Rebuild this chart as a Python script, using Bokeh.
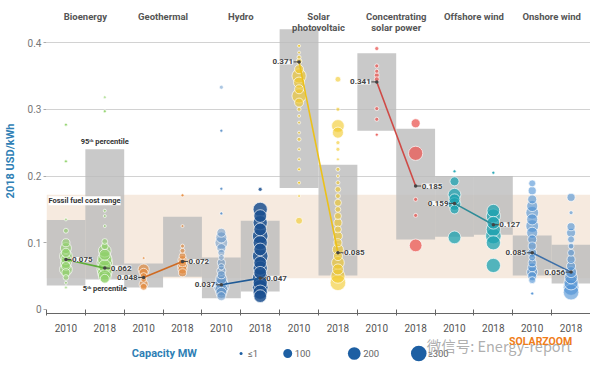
import math
from bokeh.plotting import figure
from bokeh.models import Range1d, FixedTicker, Label, ColumnDataSource
from bokeh.layouts import column
from bokeh.embed import file_html
from bokeh.resources import INLINE
from bokeh.core.properties import value

# ---------------- data ----------------
title_line1 = ["Bioenergy", "Geothermal", "Hydro", "Solar", "Concentrating", "Offshore wind", "Onshore wind"]
title_line2 = ["", "", "", "photovoltaic", "solar power", "", ""]
years = ["2010", "2018"]

avg_2010 = [0.075, 0.048, 0.037, 0.371, 0.341, 0.159, 0.085]
avg_2018 = [0.062, 0.072, 0.047, 0.085, 0.185, 0.127, 0.056]
label_side = ["right", "right", "left", "right", "left", "right", "left",
              "right", "left", "right", "left", "right", "left", "left"]

p5_2010 = [0.036, 0.033, 0.017, 0.182, 0.268, 0.109, 0.051]
p95_2010 = [0.134, 0.069, 0.078, 0.420, 0.384, 0.200, 0.111]
p5_2018 = [0.045, 0.049, 0.027, 0.051, 0.105, 0.112, 0.039]
p95_2018 = [0.240, 0.139, 0.133, 0.217, 0.271, 0.200, 0.097]

fossil_low = 0.047
fossil_high = 0.172

# (LCOE USD/kWh, capacity MW)
bio_2010 = [(0.277, 1), (0.222, 1), (0.135, 5), (0.118, 30), (0.100, 80), (0.092, 150), (0.085, 100),
            (0.080, 200), (0.075, 120), (0.070, 150), (0.065, 100), (0.060, 200), (0.055, 80),
            (0.048, 40), (0.040, 10), (0.033, 5)]
bio_2018 = [(0.318, 10), (0.297, 1), (0.148, 5), (0.140, 5), (0.125, 5), (0.102, 40), (0.095, 60),
            (0.088, 200), (0.082, 150), (0.076, 250), (0.070, 300), (0.065, 200), (0.060, 300),
            (0.055, 250), (0.050, 200), (0.046, 100)]
geo_2010 = [(0.077, 5), (0.060, 150), (0.055, 100), (0.050, 60), (0.045, 40), (0.038, 100), (0.034, 60)]
geo_2018 = [(0.171, 1), (0.125, 5), (0.095, 20), (0.088, 30), (0.080, 60), (0.074, 100), (0.070, 80),
            (0.065, 120), (0.060, 100), (0.055, 80)]
hyd_2010 = [(0.333, 20), (0.268, 1), (0.181, 1), (0.144, 1), (0.115, 100), (0.108, 150), (0.100, 200),
            (0.092, 100), (0.085, 60), (0.078, 40), (0.070, 80), (0.064, 50), (0.058, 100), (0.052, 80),
            (0.046, 150), (0.040, 200), (0.035, 300), (0.030, 200), (0.025, 150), (0.020, 100)]
hyd_2018 = [(0.180, 20), (0.150, 250), (0.140, 200), (0.130, 250), (0.120, 200), (0.110, 300),
            (0.100, 250), (0.090, 200), (0.080, 300), (0.070, 200), (0.062, 250), (0.055, 200),
            (0.047, 300), (0.040, 250), (0.033, 300), (0.026, 250), (0.020, 200)]
pv_2010 = [(0.395, 1), (0.385, 5), (0.378, 20), (0.372, 40), (0.360, 100), (0.350, 250), (0.340, 150),
           (0.330, 100), (0.320, 250), (0.310, 100), (0.300, 20), (0.290, 5), (0.280, 5), (0.265, 5),
           (0.255, 20), (0.240, 5), (0.225, 5), (0.210, 1), (0.190, 1), (0.170, 5), (0.133, 60)]
pv_2018 = [(0.345, 40), (0.300, 20), (0.275, 200), (0.265, 150), (0.250, 20), (0.240, 20), (0.225, 10),
           (0.210, 20), (0.200, 10), (0.190, 20), (0.180, 40), (0.170, 30), (0.160, 60), (0.150, 40),
           (0.140, 60), (0.130, 80), (0.120, 60), (0.110, 100), (0.100, 80), (0.090, 150), (0.080, 100),
           (0.070, 200), (0.060, 150), (0.050, 250), (0.040, 300)]
csp_2010 = [(0.391, 20), (0.365, 20), (0.357, 20), (0.351, 30), (0.345, 30), (0.301, 20), (0.285, 20),
            (0.262, 1)]
csp_2018 = [(0.279, 100), (0.234, 250), (0.165, 20), (0.141, 20), (0.096, 200)]
off_2010 = [(0.207, 1), (0.192, 100), (0.172, 200), (0.165, 150), (0.158, 200), (0.150, 100), (0.108, 200)]
off_2018 = [(0.205, 1), (0.148, 200), (0.140, 250), (0.130, 200), (0.120, 250), (0.110, 300),
            (0.100, 250), (0.066, 250)]
on_2010 = [(0.189, 60), (0.178, 80), (0.165, 100), (0.155, 150), (0.145, 200), (0.135, 150), (0.125, 200),
           (0.115, 150), (0.105, 100), (0.095, 80), (0.085, 100), (0.078, 60), (0.070, 80), (0.063, 100),
           (0.056, 150), (0.050, 100), (0.044, 60), (0.024, 1)]
on_2018 = [(0.168, 80), (0.145, 20), (0.124, 80), (0.115, 100), (0.105, 60), (0.095, 40), (0.085, 60),
           (0.075, 80), (0.065, 100), (0.056, 150), (0.048, 200), (0.040, 250), (0.033, 300), (0.026, 300)]

bubble_columns = [bio_2010, bio_2018, geo_2010, geo_2018, hyd_2010, hyd_2018, pv_2010, pv_2018,
                  csp_2010, csp_2018, off_2010, off_2018, on_2010, on_2018]

legend_caps = ["≤1", "100", "200", "≥300"]
legend_mw = [1, 100, 200, 300]

# ---------------- styles ----------------
FONT = "Roboto"
col_colors = ["#8ed168", "#8ed168", "#e5893a", "#e5893a", "#5a8fc8", "#1a4f8f", "#f2c824", "#f2c824",
              "#ea5753", "#ea5753", "#1ba2b0", "#1ba2b0", "#4b8fd4", "#4b8fd4"]
col_alpha = [0.6, 0.6, 0.65, 0.65, 0.5, 0.85, 0.6, 0.6, 0.75, 0.75, 0.75, 0.75, 0.6, 0.6]
line_colors = ["#5fae3a", "#cf6a22", "#1f5a96", "#ecc11a", "#cf4a46", "#2f8c98", "#3d6fa8"]
box_color = "#bcbcbc"
band_color = "#f6eadf"
accent = "#2f7fb5"

BORDER_L = 42
FIG_W = 590


def bubble_size(mw):
    return max(3.0, 9.0 * math.sqrt(mw / 100.0))


p = figure(width=FIG_W, height=336, output_backend="svg", toolbar_location=None,
           x_range=Range1d(0, 14), y_range=Range1d(-0.006, 0.451),
           min_border_top=8, min_border_bottom=23, min_border_left=BORDER_L, min_border_right=0)
p.outline_line_color = None
p.background_fill_color = "white"
p.border_fill_color = "white"

# axes
n_cols = 2 * len(title_line1)
centers = [k + 0.5 for k in range(n_cols)]
p.xaxis.ticker = FixedTicker(ticks=centers, minor_ticks=list(range(n_cols + 1)))
p.xaxis.major_label_overrides = {c: years[k % 2] for k, c in enumerate(centers)}
p.xaxis.major_tick_line_color = None
p.xaxis.minor_tick_in = 4
p.xaxis.minor_tick_out = 2
p.xaxis.minor_tick_line_color = "#666666"
p.xaxis.axis_line_color = "#666666"
p.xaxis.major_label_text_font = FONT
p.xaxis.major_label_text_font_size = "10px"
p.xaxis.major_label_text_color = "#555555"
p.xaxis.major_label_standoff = 4

yt = [0, 0.1, 0.2, 0.3, 0.4]
p.yaxis.ticker = FixedTicker(ticks=yt, minor_ticks=[])
p.yaxis.major_label_overrides = {0: "0", 0.1: "0.1", 0.2: "0.2", 0.3: "0.3", 0.4: "0.4"}
p.yaxis.axis_line_color = None
p.yaxis.major_tick_in = 0
p.yaxis.major_tick_out = 3
p.yaxis.major_tick_line_color = "#aaaaaa"
p.yaxis.major_label_text_font = FONT
p.yaxis.major_label_text_font_size = "10px"
p.yaxis.major_label_text_color = "#777777"
p.yaxis.major_label_standoff = 2
p.yaxis.axis_label = "2018 USD/kWh"
p.yaxis.axis_label_text_font = FONT
p.yaxis.axis_label_text_font_size = "11px"
p.yaxis.axis_label_text_font_style = "bold"
p.yaxis.axis_label_text_color = accent
p.yaxis.axis_label_standoff = 8

p.xgrid.grid_line_color = None
p.ygrid.ticker = FixedTicker(ticks=[0.1, 0.2, 0.3, 0.4])
p.ygrid.grid_line_color = "#d2d2d2"
p.ygrid.grid_line_width = 1

# fossil fuel band
p.quad(left=[0], right=[n_cols], bottom=[fossil_low], top=[fossil_high],
       fill_color=band_color, line_color=None)

# percentile boxes
box_l, box_r, box_b, box_t = [], [], [], []
for i in range(len(title_line1)):
    box_l += [2 * i, 2 * i + 1]
    box_r += [2 * i + 1, 2 * i + 2]
    box_b += [p5_2010[i], p5_2018[i]]
    box_t += [p95_2010[i], p95_2018[i]]
p.quad(left=box_l, right=box_r, bottom=box_b, top=box_t,
       fill_color=box_color, fill_alpha=0.8, line_color=None)

# bubbles
bx, by, bs, bc, ba = [], [], [], [], []
for k, pts in enumerate(bubble_columns):
    for (v, mw) in sorted(pts, key=lambda t: -t[1]):
        bx.append(k + 0.5)
        by.append(v)
        bs.append(bubble_size(mw))
        bc.append(col_colors[k])
        ba.append(col_alpha[k] if mw > 1 else 0.9)
src = ColumnDataSource(dict(x=bx, y=by, size=bs, color=bc, alpha=ba))
p.scatter(x="x", y="y", size="size", fill_color="color", fill_alpha="alpha",
          line_color="white", line_alpha=0.85, line_width=0.8, source=src)

# weighted average lines and labels
for i in range(len(title_line1)):
    x0, x1 = 2 * i + 0.5, 2 * i + 1.5
    p.line([x0, x1], [avg_2010[i], avg_2018[i]], line_color=line_colors[i], line_width=1.6)
    p.scatter([x0, x1], [avg_2010[i], avg_2018[i]], size=3.5, fill_color="#444444", line_color=None)
    for k, (xc, val) in enumerate([(x0, avg_2010[i]), (x1, avg_2018[i])]):
        side = label_side[2 * i + k]
        sgn = 1 if side == "right" else -1
        p.segment([xc], [val], [xc + sgn * 0.14], [val], line_color="#444444", line_width=1)
        p.add_layout(Label(x=xc, y=val, text=f"{val:.3f}", x_offset=sgn * 6,
                           text_align="left" if side == "right" else "right",
                           text_baseline="middle", text_font=FONT, text_font_size="8px",
                           text_font_style="bold", text_color="#444444",
                           background_fill_color="white", background_fill_alpha=0.85))

# category titles
for i in range(len(title_line1)):
    p.text(x=[2 * i + 1], y=[0.439], text=[title_line1[i]], text_align="center",
           text_baseline="middle", text_font=value(FONT), text_font_size="9.5px",
           text_font_style="bold", text_color="#555555")
    if title_line2[i]:
        p.text(x=[2 * i + 1], y=[0.423], text=[title_line2[i]], text_align="center",
               text_baseline="middle", text_font=value(FONT), text_font_size="9.5px",
               text_font_style="bold", text_color="#555555")

# annotations
p.add_layout(Label(x=0.05, y=0.163, text="Fossil fuel cost range", text_align="left",
                   text_baseline="middle", text_font=FONT, text_font_size="7.5px",
                   text_font_style="bold", text_color="#333333",
                   background_fill_color="white", background_fill_alpha=1.0))
p.add_layout(Label(x=1.5, y=p95_2018[0], y_offset=8, text="95ᵗʰ percentile", text_align="center",
                   text_baseline="middle", text_font=FONT, text_font_size="7.5px",
                   text_font_style="bold", text_color="#333333"))
p.add_layout(Label(x=1.5, y=p5_2018[0], y_offset=-9, text="5ᵗʰ percentile", text_align="center",
                   text_baseline="middle", text_font=FONT, text_font_size="7.5px",
                   text_font_style="bold", text_color="#333333"))

# ---------------- legend strip (frame aligned with the main frame) ----------------
leg = figure(width=FIG_W, height=28, output_backend="svg", toolbar_location=None,
             x_range=Range1d(47, 595), y_range=Range1d(0, 28), x_axis_type=None, y_axis_type=None,
             min_border_left=BORDER_L, min_border_right=0, min_border_top=0, min_border_bottom=0)
leg.outline_line_color = None
leg.xgrid.grid_line_color = None
leg.ygrid.grid_line_color = None
leg.text(x=[133], y=[11], text=["Capacity MW"], text_align="left", text_baseline="middle",
         text_font=value(FONT), text_font_size="11px", text_font_style="bold", text_color=accent)
leg_x = [243, 290, 357, 422]
leg.scatter(x=leg_x, y=[11] * 4, size=[bubble_size(m) for m in legend_mw],
            fill_color="#1d5fa3", line_color=None)
leg.text(x=[xx + 7 + (2 if m >= 200 else 0) for xx, m in zip(leg_x, legend_mw)], y=[11] * 4,
         text=legend_caps, text_align="left", text_baseline="middle",
         text_font=value(FONT), text_font_size="9.5px", text_color="#666666")
leg.text(x=[430], y=[19], text=["微信号: Energy-report"], text_align="left", text_baseline="middle",
         text_font=value("Noto Sans CJK SC"), text_font_size="14.5px", text_color="#999999",
         text_alpha=0.8)
leg.text(x=[513], y=[23], text=["SOLARZOOM"], text_align="left", text_baseline="middle",
         text_font=value(FONT), text_font_size="10.5px", text_font_style="bold",
         text_color="#f07d1a")

layout = column(p, leg, spacing=0)
open("out.html", "w").write(file_html(layout, INLINE))
